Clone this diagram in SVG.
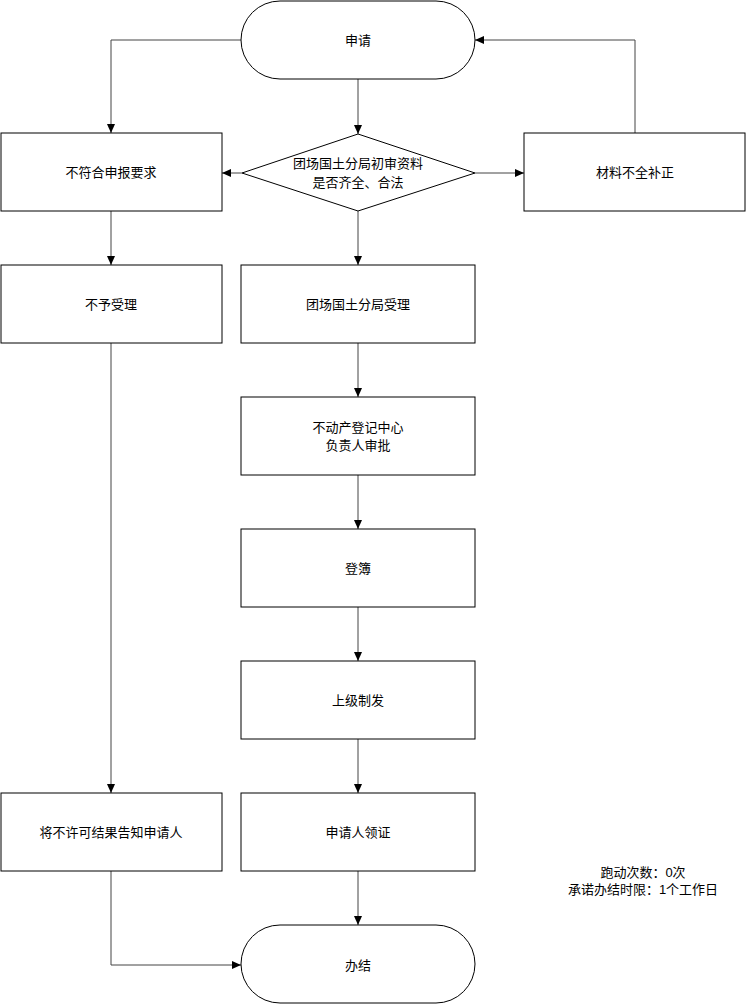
<svg xmlns="http://www.w3.org/2000/svg" width="747" height="1005" viewBox="0 0 747 1005">
<style>
.box{fill:#fff;stroke:#000;stroke-width:1}
.t{font-family:"Liberation Sans","Noto Sans CJK SC",sans-serif;font-size:13px;fill:#000;text-anchor:middle;dominant-baseline:central}
.e{fill:none;stroke:#444;stroke-width:1}
</style>
<defs>
<marker id="ah" markerWidth="10" markerHeight="10" refX="9" refY="5" orient="auto" markerUnits="userSpaceOnUse">
<path d="M0,1 L9,5 L0,9 Z" fill="#000"/>
</marker>
</defs>
<rect width="747" height="1005" fill="#fff"/>
<g id="connectors">
<path class="e" d="M241,40 H111 V133" marker-end="url(#ah)"/>
<path class="e" d="M358,79 V134" marker-end="url(#ah)"/>
<path class="e" d="M242,173 H222" marker-end="url(#ah)"/>
<path class="e" d="M475,173 H524" marker-end="url(#ah)"/>
<path class="e" d="M635,133 V40 H475" marker-end="url(#ah)"/>
<path class="e" d="M358,211 V265" marker-end="url(#ah)"/>
<path class="e" d="M111,211 V265" marker-end="url(#ah)"/>
<path class="e" d="M111,343 V793" marker-end="url(#ah)"/>
<path class="e" d="M358,343 V397" marker-end="url(#ah)"/>
<path class="e" d="M358,475 V529" marker-end="url(#ah)"/>
<path class="e" d="M358,607 V661" marker-end="url(#ah)"/>
<path class="e" d="M358,739 V793" marker-end="url(#ah)"/>
<path class="e" d="M358,871 V925" marker-end="url(#ah)"/>
<path class="e" d="M111,871 V965 H241" marker-end="url(#ah)"/>
</g>
<g id="start">
<rect class="box" x="241" y="1" width="234" height="78" rx="39" ry="39"/>
<text class="t" x="358" y="40">申请</text>
</g>
<g id="decision">
<polygon class="box" points="358,134 475,173 358,211 242,173"/>
<text class="t" x="358" y="163">团场国土分局初审资料</text>
<text class="t" x="358" y="182">是否齐全、合法</text>
</g>
<g id="reject">
<rect class="box" x="1" y="133" width="221" height="78"/>
<text class="t" x="111" y="172">不符合申报要求</text>
</g>
<g id="supplement">
<rect class="box" x="524" y="133" width="221" height="78"/>
<text class="t" x="635" y="172">材料不全补正</text>
</g>
<g id="notaccept">
<rect class="box" x="1" y="265" width="221" height="78"/>
<text class="t" x="111" y="304">不予受理</text>
</g>
<g id="accept">
<rect class="box" x="241" y="265" width="234" height="78"/>
<text class="t" x="358" y="304">团场国土分局受理</text>
</g>
<g id="approve">
<rect class="box" x="241" y="397" width="234" height="78"/>
<text class="t" x="358" y="427">不动产登记中心</text>
<text class="t" x="358" y="445">负责人审批</text>
</g>
<g id="register">
<rect class="box" x="241" y="529" width="234" height="78"/>
<text class="t" x="358" y="568">登簿</text>
</g>
<g id="issue">
<rect class="box" x="241" y="661" width="234" height="78"/>
<text class="t" x="358" y="700">上级制发</text>
</g>
<g id="receive">
<rect class="box" x="241" y="793" width="234" height="78"/>
<text class="t" x="358" y="832">申请人领证</text>
</g>
<g id="notify">
<rect class="box" x="1" y="793" width="221" height="78"/>
<text class="t" x="111" y="832">将不许可结果告知申请人</text>
</g>
<g id="end">
<rect class="box" x="241" y="925" width="234" height="78" rx="39" ry="39"/>
<text class="t" x="358" y="965">办结</text>
</g>
<g id="note">
<text class="t" x="643" y="872">跑动次数：0次</text>
<text class="t" x="643" y="889">承诺办结时限：1个工作日</text>
</g>
</svg>
